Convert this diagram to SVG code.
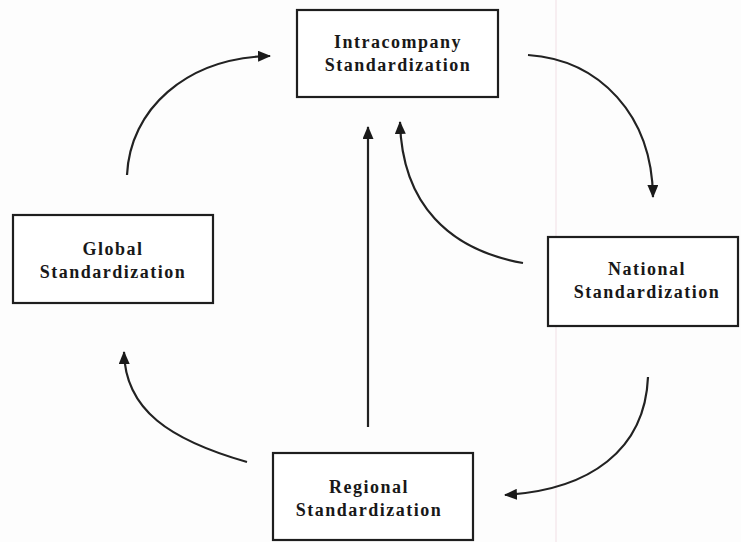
<svg xmlns="http://www.w3.org/2000/svg" width="741" height="542" viewBox="0 0 741 542">
  <defs>
    <marker id="arrow" viewBox="0 0 13 11" refX="12" refY="5.5" markerWidth="13" markerHeight="11" markerUnits="userSpaceOnUse" orient="auto">
      <path d="M0,0 L13,5.5 L0,11 Z" fill="#1a1a1a"/>
    </marker>
    <style>
      .box { fill: #ffffff; stroke: #1e1e1e; stroke-width: 2.2; }
      .label { font-family: "Liberation Serif", "Times New Roman", serif; font-weight: bold; font-size: 18px; letter-spacing: 1.5px; fill: #181818; text-anchor: middle; }
      .conn { fill: none; stroke: #222222; stroke-width: 2.2; marker-end: url(#arrow); }
    </style>
  </defs>

  <rect width="741" height="542" fill="#fdfdfd"/>
  <!-- faint paper crease -->
  <line x1="556" y1="0" x2="556" y2="542" stroke="#f7eef1" stroke-width="2"/>

  <g id="connectors">
    <!-- Global -> Intracompany -->
    <path class="conn" d="M127,175 C130,110 185,58 270,56"/>
    <!-- Intracompany -> National -->
    <path class="conn" d="M528,55 C600,60 652,115 653,197"/>
    <!-- National -> Regional -->
    <path class="conn" d="M648,377 C645,450 590,490 505,495"/>
    <!-- Regional -> Global -->
    <path class="conn" d="M247,462 C170,440 125,410 124,352"/>
    <!-- Regional -> Intracompany -->
    <path class="conn" d="M368,427 L368,127"/>
    <!-- National -> Intracompany -->
    <path class="conn" d="M523,263 C450,250 402,205 400,122"/>
  </g>

  <g id="intracompany">
    <rect class="box" x="297" y="10" width="201" height="87"/>
    <text class="label" x="398" y="48">Intracompany</text>
    <text class="label" x="398" y="71">Standardization</text>
  </g>

  <g id="global">
    <rect class="box" x="13" y="215" width="200" height="88"/>
    <text class="label" x="113" y="255">Global</text>
    <text class="label" x="113" y="278">Standardization</text>
  </g>

  <g id="national">
    <rect class="box" x="548" y="237" width="190" height="89"/>
    <text class="label" x="647" y="275">National</text>
    <text class="label" x="647" y="298">Standardization</text>
  </g>

  <g id="regional">
    <rect class="box" x="273" y="453" width="200" height="87"/>
    <text class="label" x="369" y="493">Regional</text>
    <text class="label" x="369" y="516">Standardization</text>
  </g>
</svg>
